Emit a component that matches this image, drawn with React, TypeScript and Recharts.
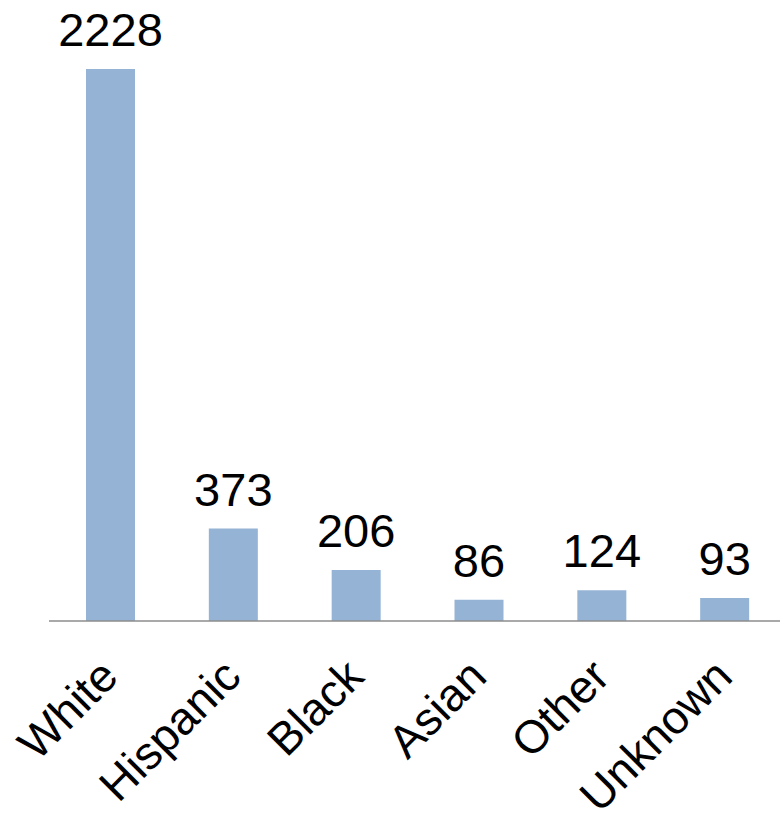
import React from 'react';
import { BarChart, Bar, XAxis, YAxis, LabelList } from 'recharts';

const categories = ['White', 'Hispanic', 'Black', 'Asian', 'Other', 'Unknown'];
const counts = [2228, 373, 206, 86, 124, 93];

const data = categories.map((name, i) => ({ name, count: counts[i] }));

const FONT = '"Liberation Sans", Arial, sans-serif';

// Rotated category label, anchored at its end just below the axis
const SlantTick = (props: any) => {
    const { x, y, payload } = props;
    const ax = x + 10;
    const ay = y + 50;
    return (
        <text
            x={ax}
            y={ay}
            textAnchor="end"
            fontSize={46}
            fontFamily={FONT}
            fill="#000"
            transform={`rotate(-45, ${ax}, ${ay})`}
        >
            {payload.value}
        </text>
    );
};

export default function App() {
    return (
        <div style={{ position: 'absolute', left: 0, top: 0, width: 780, height: 817, overflow: 'hidden', background: '#fff' }}>
            <BarChart
                width={800}
                height={817}
                data={data}
                margin={{ top: 69, right: 14, bottom: 0, left: 49 }}
            >
                <XAxis
                    dataKey="name"
                    height={196}
                    interval={0}
                    tickLine={false}
                    axisLine={{ stroke: '#8c8c8c', strokeWidth: 1.5 }}
                    tick={<SlantTick />}
                />
                <YAxis hide domain={[0, 2228]} />
                <Bar dataKey="count" fill="#95B4D5" barSize={49} isAnimationActive={false}>
                    <LabelList
                        dataKey="count"
                        position="top"
                        offset={23}
                        fontSize={47}
                        fontFamily={FONT}
                        fill="#000"
                    />
                </Bar>
            </BarChart>
        </div>
    );
}
